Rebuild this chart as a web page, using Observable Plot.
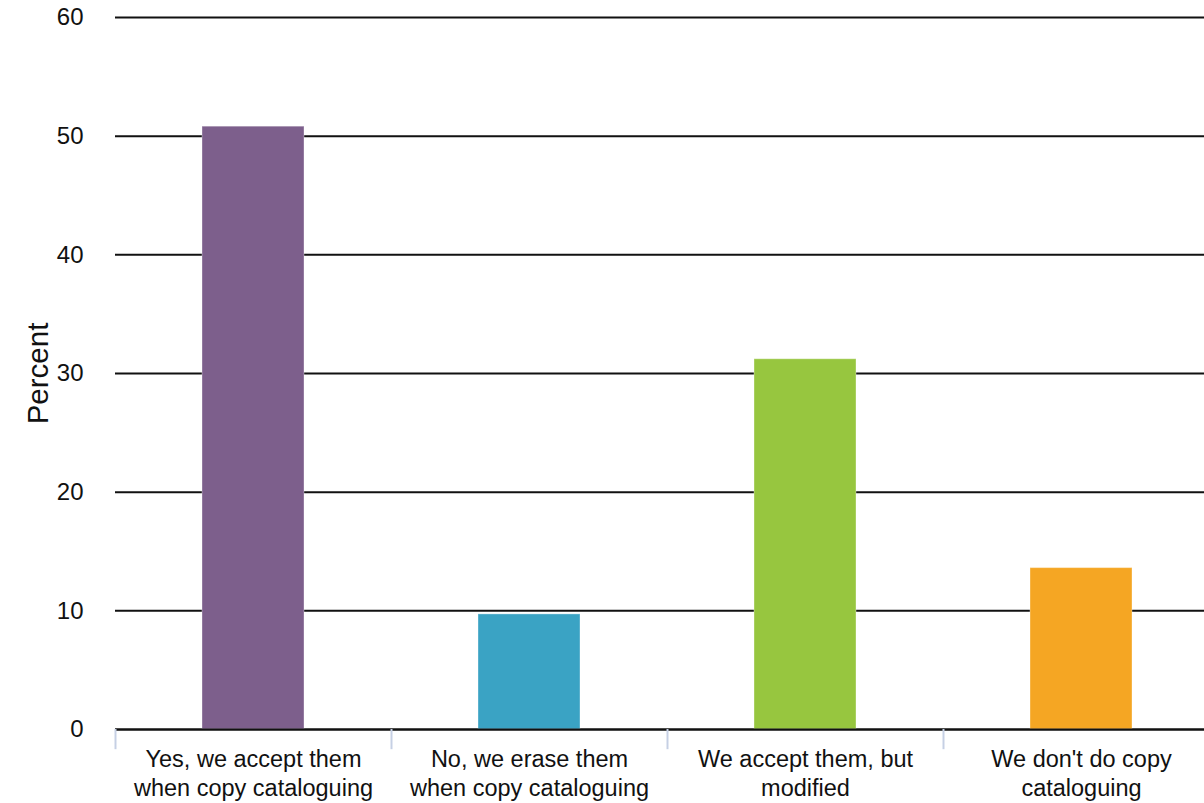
<!DOCTYPE html>
<html>
<head>
<meta charset="utf-8">
<script src="https://cdn.jsdelivr.net/npm/d3@7"></script>
<script src="https://cdn.jsdelivr.net/npm/@observablehq/plot@0.6"></script>
<style>
  html, body { margin: 0; padding: 0; background: #fff; overflow: hidden; }
  #chart svg { display: block; max-width: none !important; }
</style>
</head>
<body>
<div id="chart"></div>
<script>
const categories = [
  "Yes, we accept them\nwhen copy cataloguing",
  "No, we erase them\nwhen copy cataloguing",
  "We accept them, but\nmodified",
  "We don't do copy\ncataloguing"
];
const values = [50.8, 9.7, 31.2, 13.6];
const colors = ["#7d5f8c", "#3aa3c4", "#97c63f", "#f5a623"];
const yTicks = [0, 10, 20, 30, 40, 50, 60];

const data = categories.map((c, i) => ({category: c, value: values[i], color: colors[i]}));

const chart = Plot.plot({
  width: 1219,
  height: 803,
  marginLeft: 115,
  marginRight: 0,
  marginTop: 17,
  marginBottom: 74,
  style: {fontFamily: "'Liberation Sans', Arial, Helvetica, sans-serif", color: "#111", background: "#fff", maxWidth: "none"},
  x: {domain: categories, paddingInner: 0.632, paddingOuter: 0.316, axis: null},
  y: {domain: [0, 60], axis: null},
  marks: [
    Plot.ruleY(yTicks, {stroke: "#111", strokeWidth: 2}),
    Plot.barY(data, {x: "category", y: "value", fill: "color", stroke: "#ffffff", strokeOpacity: 0.35, strokeWidth: 1}),
    Plot.ruleY([0], {stroke: "#111", strokeWidth: 2}),
    Plot.ruleX(categories, {x: d => d, dx: -138, y1: 0, y2: -1.7, stroke: "#c6d0e4", strokeWidth: 2}),
    Plot.axisY({ticks: yTicks, tickSize: 0, tickPadding: 32, fontSize: 24, label: "Percent", labelAnchor: "center", labelArrow: "none", labelOffset: 88}),
    Plot.text(categories, {x: d => d, y: 0, text: d => d, lineAnchor: "top", dy: 17, fontSize: 23.5, lineHeight: 1.23, fill: "#111"})
  ]
});
chart.style.maxWidth = "none";
chart.querySelectorAll("[aria-label='y-axis label'] text").forEach(t => t.setAttribute("font-size", 29.5));
document.getElementById("chart").appendChild(chart);
</script>
</body>
</html>
